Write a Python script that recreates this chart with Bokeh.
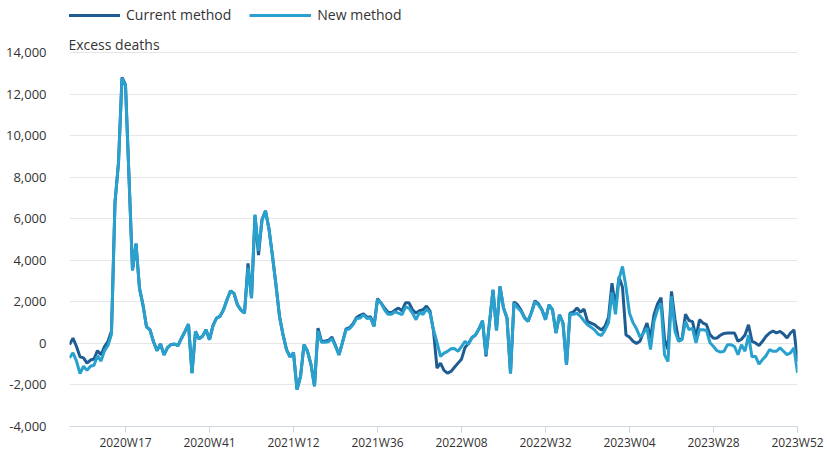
from bokeh.plotting import figure
from bokeh.models import (Range1d, FixedTicker, Legend, LegendItem, Label,
                          ColumnDataSource, NumeralTickFormatter)
from bokeh.embed import file_html
from bokeh.resources import INLINE

# ISO weeks 2020W01 .. 2023W52
years = [2020, 2021, 2022, 2023]
weeks_in_year = [53, 52, 52, 52]
weeks = [f"{y}W{w:02d}" for y, n in zip(years, weeks_in_year) for w in range(1, n + 1)]

tick_labels = ["2020W17", "2020W41", "2021W12", "2021W36", "2022W08",
               "2022W32", "2023W04", "2023W28", "2023W52"]
y_ticks = [-4000, -2000, 0, 2000, 4000, 6000, 8000, 10000, 12000, 14000]

current_method = [
    -60, 250, -150, -650, -700, -950, -800, -750, -350, -550,
    -150, 100, 600, 6800, 8700, 12800, 12450, 8000, 3550, 4800,
    2650, 1850, 800, 650, 80, -350, -30, -550, -200, -60,
    -30, -110, 250, 580, 930, -1430, 580, 220, 340, 660,
    180, 860, 1220, 1300, 1620, 2100, 2530, 2400, 1850, 1600,
    1460, 3850, 2180, 6150, 4250, 5950, 6380, 5500, 4200, 2800,
    1300, 420, -300, -650, -450, -2230, -1600, -60, -380, -1020,
    -2060, 740, 100, 100, 150, 300, -100, -550, 50, 700,
    750, 950, 1250, 1350, 1420, 1250, 1280, 820, 2150, 1950,
    1700, 1500, 1480, 1600, 1700, 1570, 1950, 1950, 1620, 1460,
    1570, 1620, 1800, 1550, 600, -1190, -950, -1300, -1430, -1350,
    -1150, -950, -760, -200, 0, 280, 400, 700, 1090, -620,
    1000, 2580, 630, 2740, 1700, 1220, -1450, 2000, 1860, 1600,
    1250, 1060, 1500, 2050, 1900, 1620, 1140, 1860, 1620, 500,
    1380, 980, -1030, 1460, 1520, 1700, 1500, 1650, 1060, 980,
    900, 760, 650, 820, 1250, 2900, 1750, 3200, 2700, 400,
    300, 100, 0, 100, 550, 980, 250, 1380, 1900, 2200,
    200, -300, 2500, 1140, 180, 200, 1400, 1100, 1050, 280,
    1140, 980, 900, 420, 250, 260, 400, 480, 500, 500,
    500, 100, 200, 400, 900, 100, 20, -100, 100, 340,
    500, 600, 500, 580, 450, 260, 500, 650, -860,
]

new_method = [
    -700, -450, -850, -1450, -1100, -1300, -1100, -1050, -600, -850,
    -350, -100, 450, 6800, 8700, 12750, 12400, 8000, 3500, 4800,
    2650, 1850, 800, 650, 80, -350, -30, -550, -200, -60,
    -30, -110, 250, 580, 930, -1430, 580, 220, 340, 660,
    180, 860, 1220, 1300, 1620, 2100, 2530, 2400, 1850, 1600,
    1460, 3650, 2180, 6200, 4450, 5950, 6380, 5500, 4200, 2800,
    1300, 420, -300, -650, -450, -2230, -1600, -60, -380, -1020,
    -2060, 600, 50, 50, 80, 230, -150, -550, 50, 650,
    700, 900, 1200, 1220, 1380, 1200, 1220, 820, 2100, 1950,
    1620, 1400, 1400, 1520, 1460, 1380, 1750, 1700, 1460, 1140,
    1480, 1400, 1650, 1460, 657, 50, -625, -465, -385, -260,
    -250, -380, -150, 96, -50, 280, 400, 700, 1090, -545,
    1000, 2580, 630, 2740, 1700, 1220, -1450, 1940, 1720, 1550,
    1220, 1060, 1480, 2000, 1850, 1580, 1140, 1860, 1600, 500,
    1380, 980, -1030, 1420, 1400, 1450, 1300, 1080, 900, 780,
    650, 450, 380, 650, 1000, 2450, 1400, 3100, 3700, 2700,
    1450, 1000, 700, 300, 500, 740, -300, 1060, 1620, 1940,
    -550, -870, 2260, 580, 100, 180, 1060, 660, 720, 20,
    660, 660, 620, 30, -150, -350, -420, -380, -60, -60,
    -150, -545, -60, -380, 400, -650, -620, -1000, -780, -600,
    -300, -380, -380, -220, -380, -540, -460, -220, -1420,
]

idx = list(range(len(weeks)))
source = ColumnDataSource(dict(idx=idx, week=weeks, current=current_method, new=new_method))

FONT = "Open Sans"
TEXT = "#333333"
DARK = "#1f5c92"
LIGHT = "#29a1cf"

p = figure(width=827, height=453, output_backend="svg", toolbar_location=None,
           x_range=Range1d(0, len(weeks) - 1), y_range=Range1d(-4000, 16503),
           min_border_left=69, min_border_right=30, min_border_top=0, min_border_bottom=0)
p.outline_line_color = None
p.background_fill_color = "white"
p.border_fill_color = "white"

r_cur = p.line("idx", "current", source=source, line_color=DARK, line_width=3)
r_new = p.line("idx", "new", source=source, line_color=LIGHT, line_width=3)

# axes
tick_idx = [weeks.index(t) for t in tick_labels]
p.xaxis.ticker = FixedTicker(ticks=tick_idx)
p.xaxis.major_label_overrides = {i: t for i, t in zip(tick_idx, tick_labels)}
p.xaxis.axis_line_color = "#cfd7e4"
p.xaxis.major_tick_line_color = "#cfd7e4"
p.xaxis.minor_tick_line_color = None
p.xaxis.major_tick_out = 6
p.xaxis.major_tick_in = 0
p.xaxis.major_label_standoff = 1
p.xaxis.major_label_text_font = FONT
p.xaxis.major_label_text_font_size = "12px"
p.xaxis.major_label_text_color = TEXT

p.yaxis.ticker = FixedTicker(ticks=y_ticks)
p.yaxis.formatter = NumeralTickFormatter(format="0,0")
p.yaxis.axis_line_color = None
p.yaxis.major_tick_line_color = None
p.yaxis.minor_tick_line_color = None
p.yaxis.major_label_standoff = 17
p.yaxis.major_label_text_font = FONT
p.yaxis.major_label_text_font_size = "13px"
p.yaxis.major_label_text_color = TEXT

p.xgrid.grid_line_color = None
p.ygrid.ticker = FixedTicker(ticks=y_ticks)
p.ygrid.grid_line_color = "#e6e6e6"
p.ygrid.grid_line_width = 1

p.add_layout(Label(x=-0.3, y=14390, text="Excess deaths", text_font=FONT,
                   text_font_size="14px", text_color=TEXT,
                   text_align="left", text_baseline="middle"))

legend = Legend(items=[LegendItem(label="Current method", renderers=[r_cur]),
                       LegendItem(label="New method", renderers=[r_new])],
                orientation="horizontal", location=(-11, 402),
                padding=0, margin=0, spacing=18,
                glyph_width=62, glyph_height=16, label_height=16, label_standoff=6,
                label_text_font=FONT, label_text_font_size="14px", label_text_color=TEXT,
                border_line_color=None, background_fill_alpha=0)
p.add_layout(legend)

open("out.html", "w").write(file_html(p, INLINE))
